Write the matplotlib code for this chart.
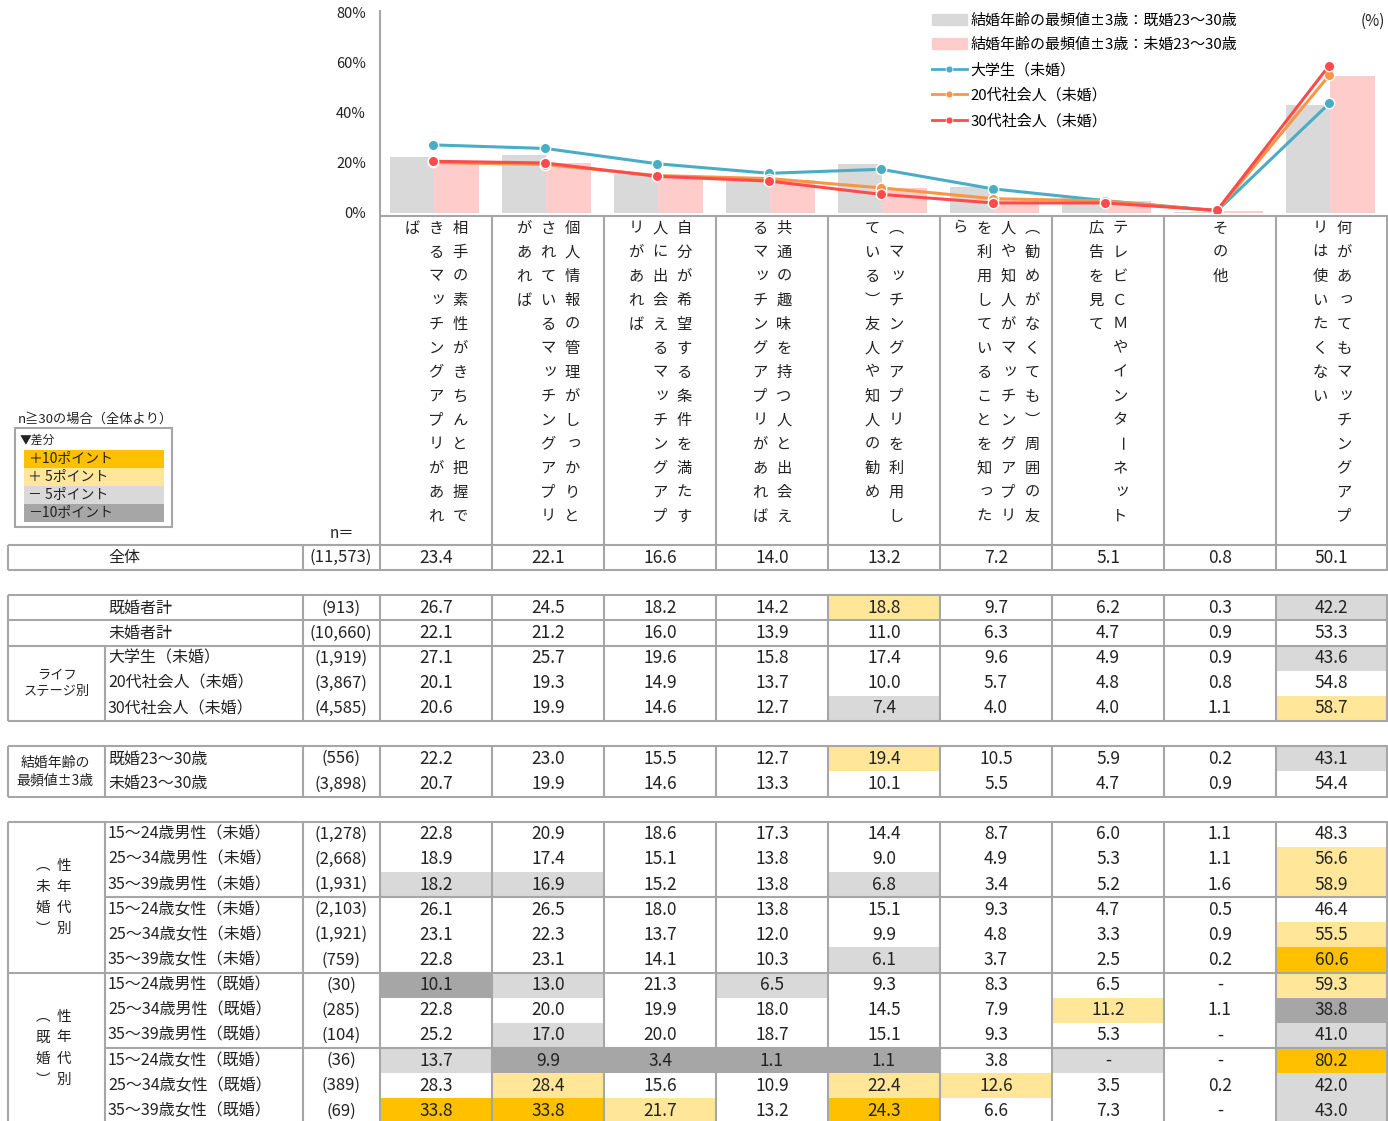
import numpy as np
import matplotlib
matplotlib.use("Agg")
from matplotlib import pyplot as plt
from matplotlib.patches import Rectangle, Patch
from matplotlib.lines import Line2D

plt.rcParams['font.family'] = ['Noto Sans CJK JP', 'DejaVu Sans']

# answer items (column headers, written vertically)
items = [
    "相手の素性がきちんと把握できるマッチングアプリがあれば",
    "個人情報の管理がしっかりとされているマッチングアプリがあれば",
    "自分が希望する条件を満たす人に出会えるマッチングアプリがあれば",
    "共通の趣味を持つ人と出会えるマッチングアプリがあれば",
    "（マッチングアプリを利用している）友人や知人の勧め",
    "（勧めがなくても）周囲の友人や知人がマッチングアプリを利用していることを知ったら",
    "テレビＣＭやインターネット広告を見て",
    "その他",
    "何があってもマッチングアプリは使いたくない",
]

NA = np.nan
total = [23.4, 22.1, 16.6, 14.0, 13.2, 7.2, 5.1, 0.8, 50.1]
married = [26.7, 24.5, 18.2, 14.2, 18.8, 9.7, 6.2, 0.3, 42.2]
unmarried = [22.1, 21.2, 16.0, 13.9, 11.0, 6.3, 4.7, 0.9, 53.3]
student = [27.1, 25.7, 19.6, 15.8, 17.4, 9.6, 4.9, 0.9, 43.6]
work20 = [20.1, 19.3, 14.9, 13.7, 10.0, 5.7, 4.8, 0.8, 54.8]
work30 = [20.6, 19.9, 14.6, 12.7, 7.4, 4.0, 4.0, 1.1, 58.7]
mar2330 = [22.2, 23.0, 15.5, 12.7, 19.4, 10.5, 5.9, 0.2, 43.1]
unm2330 = [20.7, 19.9, 14.6, 13.3, 10.1, 5.5, 4.7, 0.9, 54.4]
sexage_vals = [
    [22.8, 20.9, 18.6, 17.3, 14.4, 8.7, 6.0, 1.1, 48.3],
    [18.9, 17.4, 15.1, 13.8, 9.0, 4.9, 5.3, 1.1, 56.6],
    [18.2, 16.9, 15.2, 13.8, 6.8, 3.4, 5.2, 1.6, 58.9],
    [26.1, 26.5, 18.0, 13.8, 15.1, 9.3, 4.7, 0.5, 46.4],
    [23.1, 22.3, 13.7, 12.0, 9.9, 4.8, 3.3, 0.9, 55.5],
    [22.8, 23.1, 14.1, 10.3, 6.1, 3.7, 2.5, 0.2, 60.6],
    [10.1, 13.0, 21.3, 6.5, 9.3, 8.3, 6.5, NA, 59.3],
    [22.8, 20.0, 19.9, 18.0, 14.5, 7.9, 11.2, 1.1, 38.8],
    [25.2, 17.0, 20.0, 18.7, 15.1, 9.3, 5.3, NA, 41.0],
    [13.7, 9.9, 3.4, 1.1, 1.1, 3.8, NA, NA, 80.2],
    [28.3, 28.4, 15.6, 10.9, 22.4, 12.6, 3.5, 0.2, 42.0],
    [33.8, 33.8, 21.7, 13.2, 24.3, 6.6, 7.3, NA, 43.0],
]
sexage_labels = ["15～24歳男性（未婚）", "25～34歳男性（未婚）", "35～39歳男性（未婚）",
                 "15～24歳女性（未婚）", "25～34歳女性（未婚）", "35～39歳女性（未婚）",
                 "15～24歳男性（既婚）", "25～34歳男性（既婚）", "35～39歳男性（既婚）",
                 "15～24歳女性（既婚）", "25～34歳女性（既婚）", "35～39歳女性（既婚）"]
sexage_n = ["(1,278)", "(2,668)", "(1,931)", "(2,103)", "(1,921)", "(759)",
            "(30)", "(285)", "(104)", "(36)", "(389)", "(69)"]

row_labels = ["全体", "既婚者計", "未婚者計", "大学生（未婚）", "20代社会人（未婚）", "30代社会人（未婚）",
              "既婚23～30歳", "未婚23～30歳"] + sexage_labels
row_n = ["(11,573)", "(913)", "(10,660)", "(1,919)", "(3,867)", "(4,585)", "(556)", "(3,898)"] + sexage_n
row_vals = [total, married, unmarried, student, work20, work30, mar2330, unm2330] + sexage_vals
row_slot = [0, 2, 3, 4, 5, 6, 8, 9] + list(range(11, 23))

line_series = [("大学生（未婚）", student, "#4BACC6"),
               ("20代社会人（未婚）", work20, "#F79646"),
               ("30代社会人（未婚）", work30, "#FF4B4B")]

key_labels = ["＋10ポイント", "＋ 5ポイント", "－ 5ポイント", "－10ポイント"]
key_colors = ["#FFC000", "#FFE699", "#D9D9D9", "#A6A6A6"]

W, H = 1388, 1121
GRID = "#A6A6A6"
TXT = "#222222"

fig = plt.figure(figsize=(W / 100, H / 100), dpi=100)
ax0 = fig.add_axes([0, 0, 1, 1])
ax0.set_xlim(0, W)
ax0.set_ylim(H, 0)
ax0.axis('off')

col_x0 = 380
col_w = 112
col_edges = [col_x0 + col_w * i for i in range(10)]
col_edges[-1] = W - 1
y_top = 545
rh = 25.15


def slot_y(s):
    return y_top + s * rh


def hline(x0, x1, y):
    ax0.plot([x0, x1], [y, y], color=GRID, lw=1.5, solid_capstyle='butt', zorder=3)


def vline(x, y0, y1):
    ax0.plot([x, x], [y0, y1], color=GRID, lw=1.5, solid_capstyle='butt', zorder=3)


def diff_color(v, base):
    d = round((0 if np.isnan(v) else v) - base, 1)
    if d >= 10:
        return key_colors[0]
    if d >= 5:
        return key_colors[1]
    if d <= -10:
        return key_colors[3]
    if d <= -5:
        return key_colors[2]
    return None


VERT = {"（": "︵", "）": "︶"}


def vchar(x, y, c, size):
    # one character of vertical (tategaki) text
    dx, dy, rot = 0, 0, 0
    if c in "ッっャュョゃゅょァィゥェォぁぃぅぇぉ":
        dx, dy = 2, -2
    if c == "ー":
        rot = -90
    ax0.text(x + dx, y + dy, VERT.get(c, c), ha='center', va='center', fontsize=size,
             rotation=rot, color=TXT)


# ---- chart ----
ax = fig.add_axes([col_x0 / W, 1 - 213 / H, (W - col_x0) / W, 201 / H])
ax.set_xlim(-0.5, 8.5)
ax.set_ylim(0, 80)
ax.patch.set_alpha(0)
for s in ax.spines.values():
    s.set_visible(False)
ax.set_xticks([])
ax.set_yticks([0, 20, 40, 60, 80])
ax.set_yticklabels(["0%", "20%", "40%", "60%", "80%"])
ax.tick_params(axis='y', length=0, pad=10, labelsize=10.5, labelcolor=TXT)

x = np.arange(len(items))
ax.bar(x - 0.41, mar2330, width=0.39, align='edge', color="#D9D9D9", zorder=1)
ax.bar(x - 0.015, unm2330, width=0.395, align='edge', color="#FFCCCC", zorder=1)
for name, vals, c in line_series:
    ax.plot(x - 0.025, vals, color=c, lw=2.2, marker='o', ms=7.5, mec='white', mew=1, zorder=3)

handles = [Patch(color="#D9D9D9"), Patch(color="#FFCCCC")]
handles += [Line2D([], [], color=c, lw=2, marker='o', ms=5, mec='white', mew=0.5) for _, _, c in line_series]
labels = ["結婚年齢の最頻値±3歳：既婚23～30歳", "結婚年齢の最頻値±3歳：未婚23～30歳"] + [n for n, _, _ in line_series]
ax.legend(handles, labels, loc='upper left', bbox_to_anchor=(932 / W, 1 - 13 / H),
          bbox_transform=fig.transFigure, frameon=False, fontsize=10.8,
          handlelength=2.3, handleheight=0.75, handletextpad=0.25, labelspacing=0.72,
          borderaxespad=0, borderpad=0)
ax0.text(1385, 21, "(%)", ha='right', va='center', fontsize=11, color=TXT)

# axis / header frame
vline(col_x0, 10, y_top)
hline(col_x0, W, 216)
for xe in col_edges[1:]:
    vline(xe, 216, y_top)

# vertical header text, 13 characters per line, lines run right to left
for i, txt in enumerate(items):
    chunks = [txt[k:k + 13] for k in range(0, len(txt), 13)]
    cx = (col_edges[i] + col_x0 + col_w * (i + 1)) / 2
    nl = len(chunks)
    for j, ch in enumerate(chunks):
        lx = cx + ((nl - 1) / 2 - j) * 24
        for k, c in enumerate(ch):
            vchar(lx, 228 + k * 24, c, 11)

ax0.text(330, 534, "n＝", ha='left', va='center', fontsize=11, color=TXT)

# key box
ax0.text(18, 419, "n≧30の場合（全体より）", ha='left', va='center', fontsize=9.5, color=TXT)
ax0.add_patch(Rectangle((15, 428), 157, 99, fill=False, ec=GRID, lw=1.5))
ax0.text(20, 440, "▼差分", ha='left', va='center', fontsize=8.5, color=TXT)
for k, (kl, kc) in enumerate(zip(key_labels, key_colors)):
    ax0.add_patch(Rectangle((24, 450 + 18 * k), 140, 18, color=kc, lw=0))
    ax0.text(28, 459 + 18 * k, kl, ha='left', va='center', fontsize=10, color=TXT)

# ---- table ----
for r, (lab, n, vals, s) in enumerate(zip(row_labels, row_n, row_vals, row_slot)):
    y0 = slot_y(s)
    yc = y0 + rh / 2
    ax0.text(108, yc, lab, ha='left', va='center', fontsize=11.5, color=TXT)
    ax0.text(341, yc, n, ha='center', va='center', fontsize=12, color=TXT)
    for i, v in enumerate(vals):
        if r > 0:
            fc = diff_color(v, total[i])
            if fc:
                ax0.add_patch(Rectangle((col_edges[i], y0), col_edges[i + 1] - col_edges[i], rh,
                                        color=fc, lw=0, zorder=1))
        s_v = "-" if np.isnan(v) else f"{v:.1f}"
        ax0.text((col_edges[i] + col_edges[i + 1]) / 2, yc, s_v, ha='center', va='center',
                 fontsize=12.5, color=TXT, zorder=4)

# block frames: (first slot, last slot, slots with a group column)
blocks = [(0, 0, None), (2, 6, (4, 6)), (8, 9, (8, 9)), (11, 22, (11, 22))]
for a, b, grp in blocks:
    ya, yb = slot_y(a), slot_y(b + 1)
    hline(8, W, ya)
    hline(8, W, yb)
    for xe in [8, 303] + col_edges:
        vline(xe, ya, yb)
    if grp:
        vline(105, slot_y(grp[0]), slot_y(grp[1] + 1))
hline(8, W, slot_y(3))
hline(8, W, slot_y(4))
hline(105, W, slot_y(14))
hline(8, W, slot_y(17))
hline(105, W, slot_y(20))

# group labels
ax0.text(57, slot_y(5) + rh / 2, "ライフ\nステージ別", ha='center', va='center', fontsize=9.5,
         linespacing=1.35, color=TXT)
ax0.text(55, slot_y(9), "結婚年齢の\n最頻値±3歳", ha='center', va='center', fontsize=10,
         linespacing=1.3, color=TXT)
for g0, word in [(11, "（未婚）"), (17, "（既婚）")]:
    ymid = slot_y(g0 + 3)
    for j, line in enumerate(["性年代別", word]):
        for k, c in enumerate(line):
            vchar(64 - j * 21, ymid - 31.5 + k * 21, c, 10.5)

fig.savefig("out.png", dpi=100)
